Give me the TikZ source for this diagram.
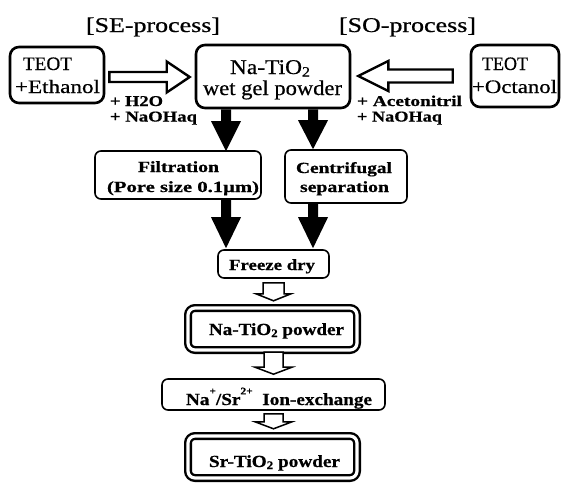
\documentclass[tikz,border=0pt]{standalone}
\usepackage{fontspec}
\setmainfont{Liberation Serif}[FakeBold=0.6]
\usepackage{graphicx}
\usetikzlibrary{calc}
\newcommand{\fitw}[2]{\resizebox{#1pt}{\height}{#2}}
\newcommand{\subtwo}{\raisebox{-0.12em}{\scalebox{0.68}{2}}}
\newcommand{\supr}[1]{\raisebox{0.62em}{\scalebox{0.6}{#1}}}
\newcommand{\fs}[1]{\fontsize{#1}{#1}\selectfont}
% block arrow: style, start, end, shaft half width, head half width, head length
\newcommand{\blockarr}[6]{%
  \coordinate (ba-s) at #2;
  \coordinate (ba-e) at #3;
  \coordinate (ba-h) at ($(ba-e)!#6!(ba-s)$);
  \draw[#1] ($(ba-s)!#4!90:(ba-e)$) -- ($(ba-h)!#4!90:(ba-e)$) -- ($(ba-h)!#5!90:(ba-e)$)
    -- (ba-e) -- ($(ba-h)!#5!-90:(ba-e)$) -- ($(ba-h)!#4!-90:(ba-e)$)
    -- ($(ba-s)!#4!-90:(ba-e)$) -- cycle;
}
\tikzset{
  mainbox/.style={draw, line width=2.6pt, rounded corners=9pt, inner sep=0pt},
  stepbox/.style={draw, line width=1.6pt, rounded corners=6pt, inner sep=0pt},
  dblbox/.style={draw, line width=2.4pt, double, double distance=3.2pt, rounded corners=7pt, inner sep=0pt},
  txt/.style={anchor=base west, inner sep=0pt, outer sep=0pt},
  solidarrow/.style={fill=black, draw=none},
  hollowarrow/.style={draw, fill=white, line width=2.4pt, line join=miter},
  smallarrow/.style={draw, fill=white, line width=1.5pt, line join=miter},
}
\begin{document}
\begin{tikzpicture}[x=1pt, y=-1pt]
\useasboundingbox (0,0) rectangle (562,482);
% boxes
\node[mainbox, minimum width=94pt, minimum height=56pt] (L) at (57,75) {};
\node[mainbox, minimum width=154pt, minimum height=63pt] (C) at (273,76.5) {};
\node[mainbox, minimum width=88pt, minimum height=62pt] (R) at (515,76) {};
\node[stepbox, minimum width=166pt, minimum height=48pt] (filt) at (178,175) {};
\node[stepbox, minimum width=122pt, minimum height=53pt] (cent) at (346,176.5) {};
\node[stepbox, minimum width=111pt, minimum height=28pt] (fd) at (273.5,264) {};
\node[dblbox, minimum width=169pt, minimum height=42pt] (np) at (272.5,329) {};
\node[stepbox, minimum width=223pt, minimum height=31pt] (ion) at (273.5,394.5) {};
\node[dblbox, minimum width=169pt, minimum height=42pt] (sp) at (272.5,457) {};
% column coordinates
\coordinate (xl) at (226,0);
\coordinate (xr) at (313,0);
\coordinate (xm) at (273.5,0);
% texts
\node[txt] (t1) at (86,32) {\fs{21}\fitw{134}{[SE-process]}};
\node[txt] (t2) at (339,32) {\fs{21}\fitw{137}{[SO-process]}};
\node[txt] (t3) at (23,70) {\fs{19}\fitw{49}{TEOT}};
\node[txt] (t4) at (15,93) {\fs{19}\fitw{85}{+Ethanol}};
\node[txt] (t5) at (230,74) {\fs{21}\fitw{80}{Na-TiO\subtwo}};
\node[txt] (t6) at (203,95) {\fs{21}\fitw{139}{wet gel powder}};
\node[txt] (t7) at (482,70) {\fs{19}\fitw{46}{TEOT}};
\node[txt] (t8) at (472,93) {\fs{19}\fitw{85}{+Octanol}};
\node[txt] (b1) at (110,106) {\fs{15}\bfseries\fitw{53}{+ H2O}};
\node[txt] (b2) at (110,121.5) {\fs{15}\bfseries\fitw{87}{+ NaOHaq}};
\node[txt] (b3) at (357,106) {\fs{15}\bfseries\fitw{105}{+ Acetonitril}};
\node[txt] (b4) at (357,121.5) {\fs{15}\bfseries\fitw{85}{+ NaOHaq}};
\node[txt] (b5) at (138,172) {\fs{15.5}\bfseries\fitw{81}{Filtration}};
\node[txt] (b6) at (107,192) {\fs{15.5}\bfseries\fitw{152}{(Pore size 0.1μm)}};
\node[txt] (b7) at (296,173) {\fs{15.5}\bfseries\fitw{96}{Centrifugal}};
\node[txt] (b8) at (300,192) {\fs{15.5}\bfseries\fitw{89}{separation}};
\node[txt] (b9) at (229,270) {\fs{15.5}\bfseries\fitw{86}{Freeze dry}};
\node[txt] (b10) at (209,335) {\fs{17}\bfseries\fitw{135}{Na-TiO\subtwo{} powder}};
\node[txt] (b11) at (186,405) {\fs{17}\bfseries\fitw{186}{Na\supr{+}/Sr\supr{2+}\ \ Ion-exchange}};
\node[txt] (b12) at (209,467) {\fs{17}\bfseries\fitw{131}{Sr-TiO\subtwo{} powder}};
% hollow horizontal arrows
\blockarr{hollowarrow}{($(L.east)+(4,2)$)}{($(C.west)+(-5,0.5)$)}{5pt}{15.5pt}{23pt}
\blockarr{hollowarrow}{($(R.west)+(-17,0)$)}{($(C.east)+(7,-0.5)$)}{6.5pt}{15pt}{30pt}
% solid down arrows
\blockarr{solidarrow}{(C.south -| xl)}{($(filt.north -| xl)+(0,1)$)}{5pt}{15pt}{30pt}
\blockarr{solidarrow}{(C.south -| xr)}{(cent.north -| xr)}{5pt}{15pt}{29pt}
\blockarr{solidarrow}{(filt.south -| xl)}{($(fd.north -| xl)+(0,-1)$)}{5pt}{15pt}{31pt}
\blockarr{solidarrow}{(cent.south -| xr)}{($(fd.north -| xr)+(0,-1)$)}{5pt}{15pt}{31pt}
% small hollow down arrows
\blockarr{smallarrow}{($(fd.south -| xm)+(0,4)$)}{($(np.north -| xm)+(0,-6)$)}{10.5pt}{17.5pt}{7pt}
\blockarr{smallarrow}{($(np.south -| xm)+(0,1)$)}{($(ion.north -| xm)+(0,-4)$)}{9.5pt}{18.5pt}{7pt}
\blockarr{smallarrow}{($(ion.south -| xm)+(0,3)$)}{($(sp.north -| xm)+(0,-6)$)}{9.5pt}{18.5pt}{7pt}
\end{tikzpicture}
\end{document}
